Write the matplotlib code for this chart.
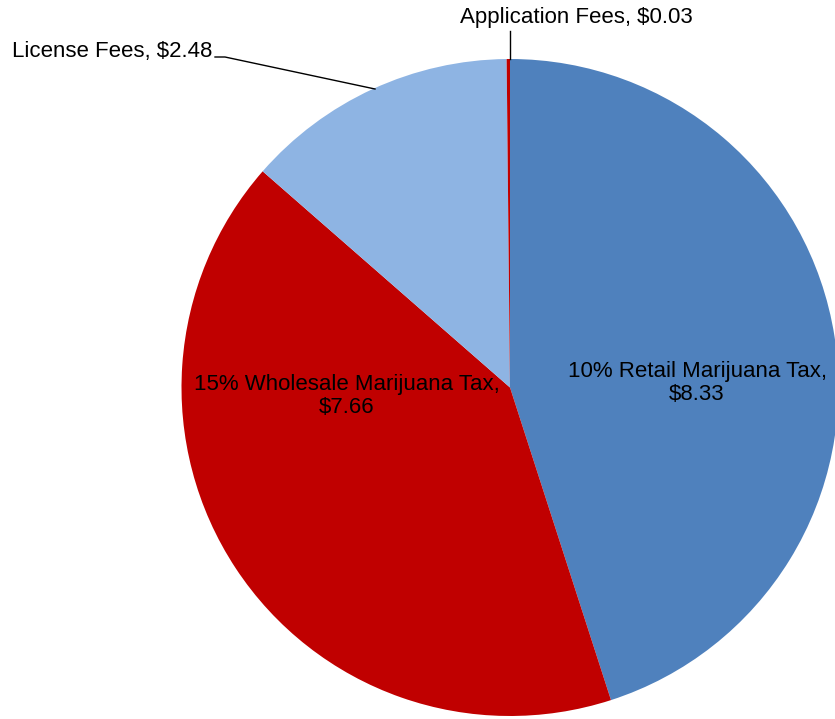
import matplotlib
matplotlib.use("Agg")
import matplotlib.pyplot as plt

categories = ["10% Retail Marijuana Tax", "15% Wholesale Marijuana Tax", "License Fees", "Application Fees"]
values = [8.33, 7.66, 2.48, 0.03]
colors = ["#4F81BD", "#C00000", "#8EB4E3", "#C00000"]

W, H = 835, 719
fig = plt.figure(figsize=(W / 100, H / 100), dpi=100)
ax = fig.add_axes([0, 0, 1, 1])

cx, cy, r = 510, H - 387.5, 328.5
ax.pie(values, colors=colors, startangle=90, counterclock=False,
       center=(cx, cy), radius=r, frame=True,
       wedgeprops=dict(linewidth=0))
ax.set_xlim(0, W)
ax.set_ylim(0, H)
ax.set_aspect("equal")
ax.axis("off")

fam = ["Liberation Sans", "DejaVu Sans"]
fs = 16

def lab(i):
    return f"{categories[i]}, ${values[i]:.2f}"

# Retail (inside)
ax.text(697, H - 383, f"{categories[0]},\n${values[0]:.2f}", ha="center", va="center",
        fontsize=fs, linespacing=1.15, family=fam)
# Wholesale (inside)
ax.text(347, H - 396, f"{categories[1]},\n${values[1]:.2f}", ha="center", va="center",
        fontsize=fs, linespacing=1.15, family=fam)
# License (outside)
ax.text(212, H - 51, lab(2), ha="right", va="center", fontsize=fs, family=fam)
ax.plot([215, 225, 375], [H - 57, H - 57, H - 89], color="black", lw=1)
# Application (outside)
ax.text(576, H - 18, lab(3), ha="center", va="center", fontsize=fs, family=fam)
ax.plot([510, 510], [H - 31, H - 59], color="black", lw=1)

fig.savefig("out.png", dpi=100)
